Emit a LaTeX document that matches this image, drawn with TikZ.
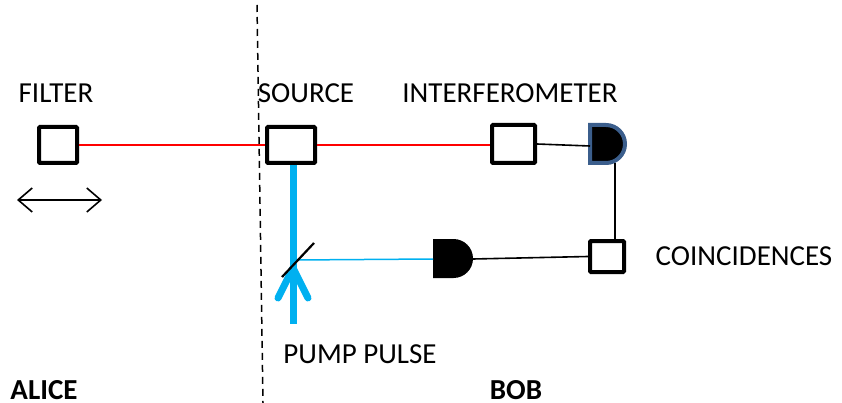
\documentclass[tikz,border=0pt]{standalone}
\usepackage{fontspec}
\setmainfont{Carlito}
\usetikzlibrary{arrows.meta}
\definecolor{pumpblue}{HTML}{00B0F0}
\definecolor{detedge}{HTML}{3B5E8C}
\definecolor{beamred}{HTML}{FF0000}
\tikzset{
  box/.style={draw=black, line width=4pt, fill=white, rectangle, rounded corners=1pt, inner sep=0pt},
  lbl/.style={font=\fontsize{29}{34}\selectfont, anchor=base, inner sep=0pt},
  blbl/.style={font=\fontsize{29}{34}\selectfont\bfseries, anchor=base, inner sep=0pt, text depth=0pt},
  redbeam/.style={draw=beamred, line width=1.6pt},
  wire/.style={draw=black, line width=1.6pt},
}
\begin{document}
\begin{tikzpicture}[x=1pt,y=-1pt]
\useasboundingbox (0,0) rectangle (842,403);
% divider
\coordinate (dtop) at (257,5);
\coordinate (dbot) at (263,403);
\draw[line width=1.5pt, dash pattern=on 7pt off 5pt] (dtop) -- (dbot);
% boxes
\node[box, minimum width=38pt, minimum height=36pt] (filter) at (58,145) {};
\node[box, minimum width=48pt, minimum height=36pt] (source) at (291,145) {};
\node[box, minimum width=43pt, minimum height=38pt] (interf) at (513.5,144) {};
\node[box, minimum width=34pt, minimum height=31pt] (coinc) at (607,256.5) {};
% detectors
\fill[black, draw=detedge, line width=4pt] (590,125) -- (606,125) arc[start angle=-90, end angle=90, radius=19] -- (590,163) -- cycle;
\coordinate (det1w) at (590,146);
\coordinate (det1b) at (615,163);
\fill[black] (433,239) -- (453.5,239) arc[start angle=-90, end angle=90, radius=19.5] -- (433,278) -- cycle;
\coordinate (det2w) at (433,259);
\coordinate (det2e) at (473,259);
% beam splitter
\coordinate (bs) at (295,260);
\coordinate (bsa) at (282,277);
\coordinate (bsb) at (314,243);
\coordinate (pumpend) at (293,324);
\coordinate (tip) at (293,268);
\coordinate (wl) at (278,298);
\coordinate (wr) at (308,298);
% beams
\draw[redbeam] (filter.east) -- (source.west);
\draw[redbeam] (source.east) -- (interf.west |- source.east);
\draw[wire] (interf.east) -- (det1w);
\draw[wire] (det1b) -- (coinc.north -| det1b);
\draw[wire] (coinc.west) -- (det2e);
\draw[draw=pumpblue, line width=1.5pt] (bs) -- (det2w);
\draw[draw=pumpblue, line width=7pt] (source.south -| pumpend) -- (pumpend);
\draw[draw=pumpblue, line width=7pt, line cap=round, line join=round] (wl) -- (tip) -- (wr);
\draw[black, line width=2.2pt] (bsa) -- (bsb);
% double arrow
\coordinate (al) at (17,200);
\coordinate (ar) at (102,200);
\draw[line width=1.6pt, {Straight Barb[length=14pt, width=24pt]}-{Straight Barb[length=14pt, width=24pt]}] (al) -- (ar);
% labels
\node[lbl] (lfilter) at (56,103) {FILTER};
\node[lbl] (lsource) at (306,103) {SOURCE};
\node[lbl] (linterf) at (510,103) {INTERFEROMETER};
\node[lbl] (lcoinc) at (744,265) {COINCIDENCES};
\node[lbl] (lpump) at (360,363) {PUMP PULSE};
\node[blbl] (lalice) at (44,399) {ALICE};
\node[blbl] (lbob) at (516,399) {BOB};
\end{tikzpicture}
\end{document}
